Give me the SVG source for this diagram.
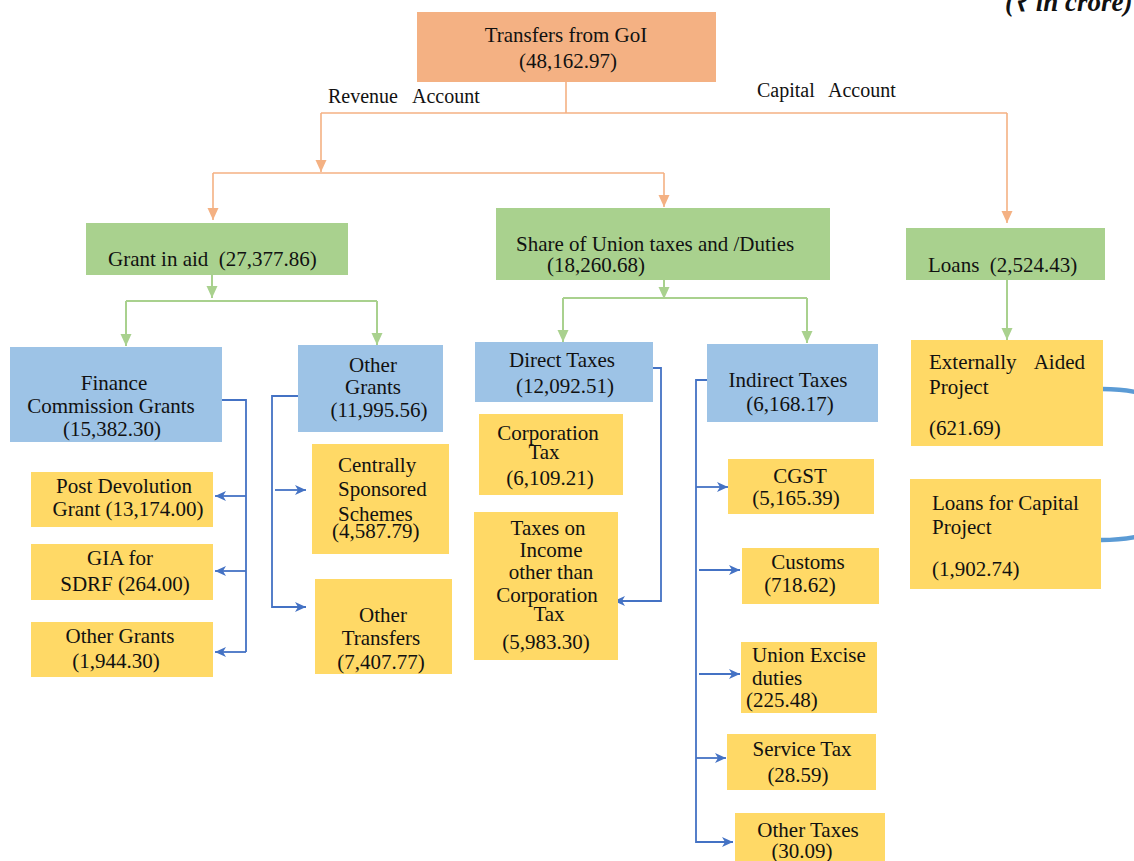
<svg xmlns="http://www.w3.org/2000/svg" width="1134" height="861" viewBox="0 0 1134 861">
<defs>
<style>
text{font-family:"Liberation Serif","Times New Roman",serif;font-size:21px;fill:#111;}
.c{text-anchor:middle;}
.e{text-anchor:end;}
.top{fill:#F4B183;}
.grn{fill:#A9D18E;}
.blu{fill:#9DC3E6;}
.yel{fill:#FFD966;}
.lo{fill:none;stroke:#F4B183;stroke-width:1.6;}
.lg{fill:none;stroke:#A9D18E;stroke-width:2;}
.lb{fill:none;stroke:#4472C4;stroke-width:1.8;}
.cv{fill:none;stroke:#5B9BD5;stroke-width:4.5;}
</style>
<marker id="ao" viewBox="0 0 12 12" refX="12" refY="6" markerWidth="12" markerHeight="12" orient="auto" markerUnits="userSpaceOnUse"><path d="M0,0.5 L12,6 L0,11.5 Z" fill="#F4B183"/></marker>
<marker id="ag" viewBox="0 0 12 12" refX="12" refY="6" markerWidth="12" markerHeight="12" orient="auto" markerUnits="userSpaceOnUse"><path d="M0,0.5 L12,6 L0,11.5 Z" fill="#A9D18E"/></marker>
<marker id="ab" viewBox="0 0 11 10" refX="11" refY="5" markerWidth="11" markerHeight="10" orient="auto" markerUnits="userSpaceOnUse"><path d="M0,0 L11,5 L0,10 L3,5 Z" fill="#4472C4"/></marker>
</defs>

<text x="1005" y="11" style="font-weight:bold;font-style:italic;font-size:27px">(₹ in crore)</text>

<g id="connectors">
<path class="lo" d="M566,82 V113"/>
<path class="lo" d="M321,113 H1007"/>
<path class="lo" d="M321,113 V172" marker-end="url(#ao)"/>
<path class="lo" d="M213,173 H664"/>
<path class="lo" d="M213,173 V220" marker-end="url(#ao)"/>
<path class="lo" d="M664,173 V207" marker-end="url(#ao)"/>
<path class="lo" d="M1007,113 V223" marker-end="url(#ao)"/>

<path class="lg" d="M212,275 V298" marker-end="url(#ag)"/>
<path class="lg" d="M126,301 H377"/>
<path class="lg" d="M126,301 V346" marker-end="url(#ag)"/>
<path class="lg" d="M377,301 V345" marker-end="url(#ag)"/>
<path class="lg" d="M664,280 V299" marker-end="url(#ag)"/>
<path class="lg" d="M563,298 H807"/>
<path class="lg" d="M563,298 V342" marker-end="url(#ag)"/>
<path class="lg" d="M807,298 V343" marker-end="url(#ag)"/>
<path class="lg" d="M1007,280 V340" marker-end="url(#ag)"/>

<path class="lb" d="M222,400 H246 V652"/>
<path class="lb" d="M246,496 H215" marker-end="url(#ab)"/>
<path class="lb" d="M246,571 H215" marker-end="url(#ab)"/>
<path class="lb" d="M246,652 H215" marker-end="url(#ab)"/>

<path class="lb" d="M298,396 H272 V607 H306" marker-end="url(#ab)"/>
<path class="lb" d="M275,490 H306" marker-end="url(#ab)"/>

<path class="lb" d="M648,368 H661 V601 H614" marker-end="url(#ab)"/>

<path class="lb" d="M707,380 H696 V842 H733" marker-end="url(#ab)"/>
<path class="lb" d="M696,487 H728" marker-end="url(#ab)"/>
<path class="lb" d="M699,570 H740" marker-end="url(#ab)"/>
<path class="lb" d="M699,674 H740" marker-end="url(#ab)"/>
<path class="lb" d="M696,758 H726" marker-end="url(#ab)"/>

<path class="cv" d="M1102,389 C1115,389 1128,390 1140,393"/>
<path class="cv" d="M1101,540 C1114,540 1127,539 1140,536"/>
</g>

<g id="transfers">
<rect class="top" x="417" y="12" width="299" height="70"/>
<text class="c" x="566" y="42">Transfers from GoI</text>
<text class="c" x="568" y="68">(48,162.97)</text>
</g>

<g id="labels">
<text x="328" y="103" style="font-size:20px">Revenue</text>
<text x="412" y="103" style="font-size:20px">Account</text>
<text x="757" y="97" style="font-size:20px">Capital</text>
<text x="828" y="97" style="font-size:20px">Account</text>
</g>

<g id="grant-in-aid">
<rect class="grn" x="86" y="223" width="262" height="52"/>
<text x="108" y="266" xml:space="preserve">Grant in aid  (27,377.86)</text>
</g>

<g id="share-union">
<rect class="grn" x="496" y="208" width="334" height="72"/>
<text x="516" y="251">Share of Union taxes and /Duties</text>
<text x="547" y="272">(18,260.68)</text>
</g>

<g id="loans">
<rect class="grn" x="906" y="228" width="199" height="52"/>
<text x="928" y="272" xml:space="preserve">Loans  (2,524.43)</text>
</g>

<g id="fc-grants">
<rect class="blu" x="10" y="347" width="212" height="95"/>
<text class="c" x="114" y="390">Finance</text>
<text class="c" x="111" y="413">Commission Grants</text>
<text class="c" x="112" y="436">(15,382.30)</text>
</g>

<g id="other-grants-blue">
<rect class="blu" x="298" y="345" width="145" height="87"/>
<text class="c" x="373" y="372">Other</text>
<text class="c" x="373" y="394">Grants</text>
<text class="c" x="379" y="417">(11,995.56)</text>
</g>

<g id="direct-taxes">
<rect class="blu" x="475" y="342" width="178" height="60"/>
<text class="c" x="562" y="367">Direct Taxes</text>
<text class="c" x="565" y="393">(12,092.51)</text>
</g>

<g id="indirect-taxes">
<rect class="blu" x="707" y="344" width="171" height="78"/>
<text class="c" x="788" y="387">Indirect Taxes</text>
<text class="c" x="790" y="411">(6,168.17)</text>
</g>

<g id="post-devolution">
<rect class="yel" x="31" y="472" width="182" height="55"/>
<text class="c" x="124" y="493">Post Devolution</text>
<text class="c" x="128" y="516">Grant (13,174.00)</text>
</g>

<g id="gia-sdrf">
<rect class="yel" x="31" y="544" width="182" height="56"/>
<text class="c" x="120" y="565">GIA for</text>
<text class="c" x="125" y="591">SDRF (264.00)</text>
</g>

<g id="other-grants-yellow">
<rect class="yel" x="31" y="622" width="182" height="55"/>
<text class="c" x="120" y="643">Other Grants</text>
<text class="c" x="116" y="668">(1,944.30)</text>
</g>

<g id="css">
<rect class="yel" x="312" y="444" width="137" height="110"/>
<text x="338" y="472">Centrally</text>
<text x="338" y="496">Sponsored</text>
<text x="338" y="521">Schemes</text>
<text x="332" y="538">(4,587.79)</text>
</g>

<g id="other-transfers">
<rect class="yel" x="315" y="579" width="137" height="95"/>
<text class="c" x="383" y="622">Other</text>
<text class="c" x="381" y="645">Transfers</text>
<text class="c" x="381" y="669">(7,407.77)</text>
</g>

<g id="corporation-tax">
<rect class="yel" x="479" y="414" width="144" height="81"/>
<text class="c" x="548" y="440">Corporation</text>
<text class="c" x="544" y="459">Tax</text>
<text class="c" x="550" y="485">(6,109.21)</text>
</g>

<g id="income-tax">
<rect class="yel" x="474" y="512" width="144" height="148"/>
<text class="c" x="548" y="535">Taxes on</text>
<text class="c" x="551" y="557">Income</text>
<text class="c" x="551" y="579">other than</text>
<text class="c" x="547" y="602">Corporation</text>
<text class="c" x="549" y="621">Tax</text>
<text class="c" x="546" y="649">(5,983.30)</text>
</g>

<g id="cgst">
<rect class="yel" x="728" y="459" width="146" height="55"/>
<text class="c" x="800" y="483">CGST</text>
<text class="c" x="796" y="505">(5,165.39)</text>
</g>

<g id="customs">
<rect class="yel" x="742" y="548" width="137" height="56"/>
<text class="c" x="808" y="569">Customs</text>
<text class="c" x="800" y="592">(718.62)</text>
</g>

<g id="union-excise">
<rect class="yel" x="741" y="642" width="136" height="71"/>
<text x="752" y="662">Union Excise</text>
<text x="752" y="685">duties</text>
<text x="746" y="707">(225.48)</text>
</g>

<g id="service-tax">
<rect class="yel" x="727" y="734" width="149" height="56"/>
<text class="c" x="802" y="756">Service Tax</text>
<text class="c" x="798" y="782">(28.59)</text>
</g>

<g id="other-taxes">
<rect class="yel" x="735" y="813" width="150" height="50"/>
<text class="c" x="808" y="837">Other Taxes</text>
<text class="c" x="802" y="858">(30.09)</text>
</g>

<g id="externally-aided">
<rect class="yel" x="911" y="340" width="192" height="106"/>
<text x="929" y="369">Externally</text>
<text class="e" x="1085" y="369">Aided</text>
<text x="929" y="394">Project</text>
<text x="929" y="435">(621.69)</text>
</g>

<g id="loans-capital">
<rect class="yel" x="910" y="479" width="191" height="110"/>
<text x="932" y="510">Loans for Capital</text>
<text x="932" y="534">Project</text>
<text x="932" y="576">(1,902.74)</text>
</g>
</svg>
